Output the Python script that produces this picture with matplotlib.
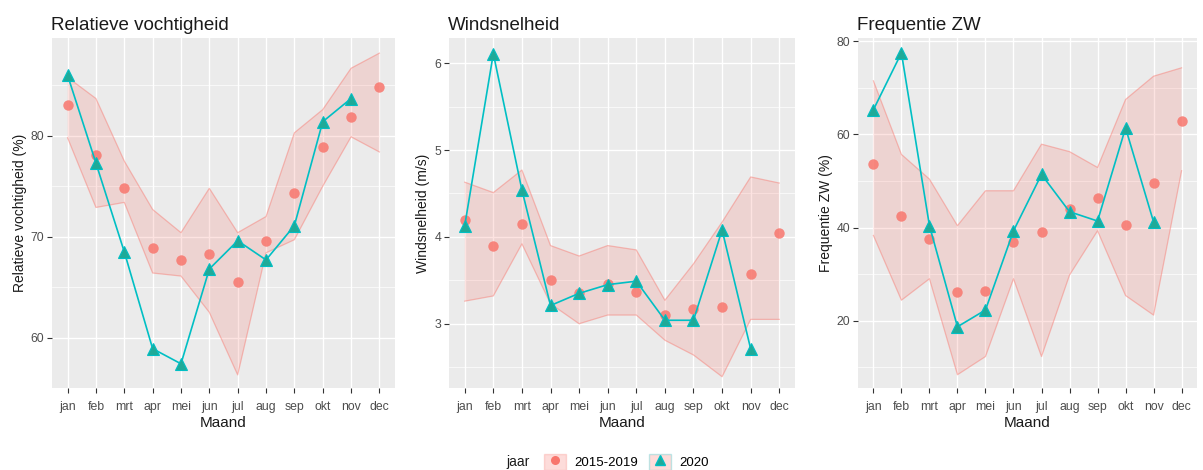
import matplotlib
matplotlib.use("Agg")
import matplotlib.pyplot as plt
from matplotlib.patches import Patch
from matplotlib.lines import Line2D
from matplotlib.ticker import MultipleLocator
from matplotlib.offsetbox import HPacker

plt.rcParams['font.family'] = ['Liberation Sans', 'DejaVu Sans']

months = ["jan", "feb", "mrt", "apr", "mei", "jun", "jul", "aug", "sep", "okt", "nov", "dec"]

# Relatieve vochtigheid
rv_mean = [83.1, 78.1, 74.8, 68.85, 67.7, 68.3, 65.5, 69.6, 74.3, 78.9, 81.9, 84.8]
rv_low = [79.8, 72.9, 73.4, 66.4, 66.1, 62.5, 56.3, 68.4, 69.7, 75.0, 79.9, 78.4]
rv_high = [85.8, 83.7, 77.5, 72.7, 70.4, 74.8, 70.4, 72.0, 80.3, 82.6, 86.7, 88.2]
rv_2020 = [86.0, 77.3, 68.5, 58.9, 57.4, 66.8, 69.6, 67.7, 71.1, 81.4, 83.7]

# Windsnelheid
ws_mean = [4.19, 3.9, 4.15, 3.5, 3.35, 3.46, 3.37, 3.1, 3.17, 3.19, 3.57, 4.04]
ws_low = [3.26, 3.32, 3.92, 3.23, 3.0, 3.1, 3.1, 2.81, 2.64, 2.39, 3.05, 3.05]
ws_high = [4.63, 4.51, 4.77, 3.9, 3.78, 3.9, 3.85, 3.27, 3.69, 4.17, 4.69, 4.62]
ws_2020 = [4.13, 6.11, 4.54, 3.21, 3.35, 3.45, 3.49, 3.04, 3.04, 4.08, 2.71]

# Frequentie ZW
zw_mean = [53.6, 42.5, 37.6, 26.1, 26.3, 37.0, 39.0, 44.0, 46.3, 40.5, 49.5, 62.8]
zw_low = [38.3, 24.4, 29.0, 8.4, 12.3, 29.0, 12.3, 29.8, 39.3, 25.4, 21.2, 52.2]
zw_high = [71.5, 55.7, 50.4, 40.4, 47.9, 47.9, 57.9, 56.3, 52.9, 67.5, 72.5, 74.3]
zw_2020 = [65.3, 77.5, 40.4, 18.7, 22.3, 39.3, 51.4, 43.4, 41.4, 61.4, 41.2]

titles = ["Relatieve vochtigheid", "Windsnelheid", "Frequentie ZW"]
ylabels = ["Relatieve vochtigheid (%)", "Windsnelheid (m/s)", "Frequentie ZW (%)"]
legend_title = "jaar"
series_labels = ["2015-2019", "2020"]

RED = "#F8766D"
TEAL = "#00BFC4"
TRI = "#1FAA98"
BG = "#EBEBEB"

fig = plt.figure(figsize=(12.03, 4.70), dpi=100)
W, H = 1203, 470
boxes = [(52, 395), (449, 795), (858, 1197)]
top_px, bot_px = 38, 388

panels = [
    (rv_mean, rv_low, rv_high, rv_2020, (55.0, 89.7), 10, 5),
    (ws_mean, ws_low, ws_high, ws_2020, (2.26, 6.29), 1, 0.5),
    (zw_mean, zw_low, zw_high, zw_2020, (5.55, 80.7), 20, 10),
]

x = list(range(12))
for i, (mean, low, high, y20, ylim, major, minor) in enumerate(panels):
    l, r = boxes[i]
    ax = fig.add_axes([l / W, 1 - bot_px / H, (r - l) / W, (bot_px - top_px) / H])
    ax.set_facecolor(BG)
    for s in ax.spines.values():
        s.set_visible(False)
    ax.yaxis.set_major_locator(MultipleLocator(major))
    ax.yaxis.set_minor_locator(MultipleLocator(minor))
    ax.set_xticks(x)
    ax.set_xticklabels(months)
    ax.grid(True, which='major', color='white', linewidth=1.0)
    ax.grid(True, which='minor', axis='y', color='white', linewidth=0.5)
    ax.set_axisbelow(True)
    ax.tick_params(axis='both', which='major', length=3.5, color='#333333',
                   labelsize=8.8, labelcolor='#4D4D4D')
    ax.tick_params(axis='x', which='major', pad=6)
    ax.tick_params(axis='y', which='major', pad=2)
    ax.tick_params(axis='y', which='minor', length=0)
    ax.fill_between(x, low, high, facecolor=RED, alpha=0.2, edgecolor='none', zorder=2)
    ax.plot(x, low, color=RED, alpha=0.45, linewidth=0.9, zorder=2)
    ax.plot(x, high, color=RED, alpha=0.45, linewidth=0.9, zorder=2)
    ax.plot(x, mean, linestyle='none', marker='o', markersize=7.5,
            color=RED, alpha=0.85, markeredgewidth=0, zorder=3)
    x20 = x[:len(y20)]
    ax.plot(x20, y20, color=TEAL, linewidth=1.2, zorder=4)
    ax.plot(x20, y20, linestyle='none', marker='^', markersize=9,
            markerfacecolor=TRI, markeredgecolor=TEAL, markeredgewidth=0.8, zorder=5)
    ax.set_xlim(-0.55, 11.55)
    ax.set_ylim(*ylim)
    ax.set_title(titles[i], loc='left', fontsize=13.5, color='#1A1A1A', pad=6, x=-0.003)
    ax.set_xlabel("Maand", fontsize=11, color='#1A1A1A', labelpad=2)
    ax.set_ylabel(ylabels[i], fontsize=10, color='#1A1A1A', labelpad=3)

h1 = (Patch(facecolor=RED, alpha=0.25, edgecolor=RED),
      Line2D([], [], linestyle='none', marker='o', markersize=6.5, color=RED, markeredgewidth=0))
h2 = (Patch(facecolor=RED, alpha=0.25, edgecolor=TEAL),
      Line2D([], [], linestyle='none', marker='^', markersize=7.5, markerfacecolor=TRI,
             markeredgecolor=TEAL))
leg = fig.legend([h1, h2], series_labels, loc='center', bbox_to_anchor=(0.505, 0.017),
                 ncol=2, frameon=False, fontsize=9.5, title=legend_title, title_fontsize=10,
                 handlelength=1.7, handleheight=1.5, columnspacing=0.8, handletextpad=0.6,
                 borderpad=0.2)
leg.get_title().set_color('#1A1A1A')
vbox = leg._legend_box
children = vbox.get_children()
if len(children) == 2:
    title_box, handles_box = children
    vbox._children = [HPacker(pad=0, sep=10, align='center', children=[title_box, handles_box])]

fig.savefig("out.png", dpi=100)
